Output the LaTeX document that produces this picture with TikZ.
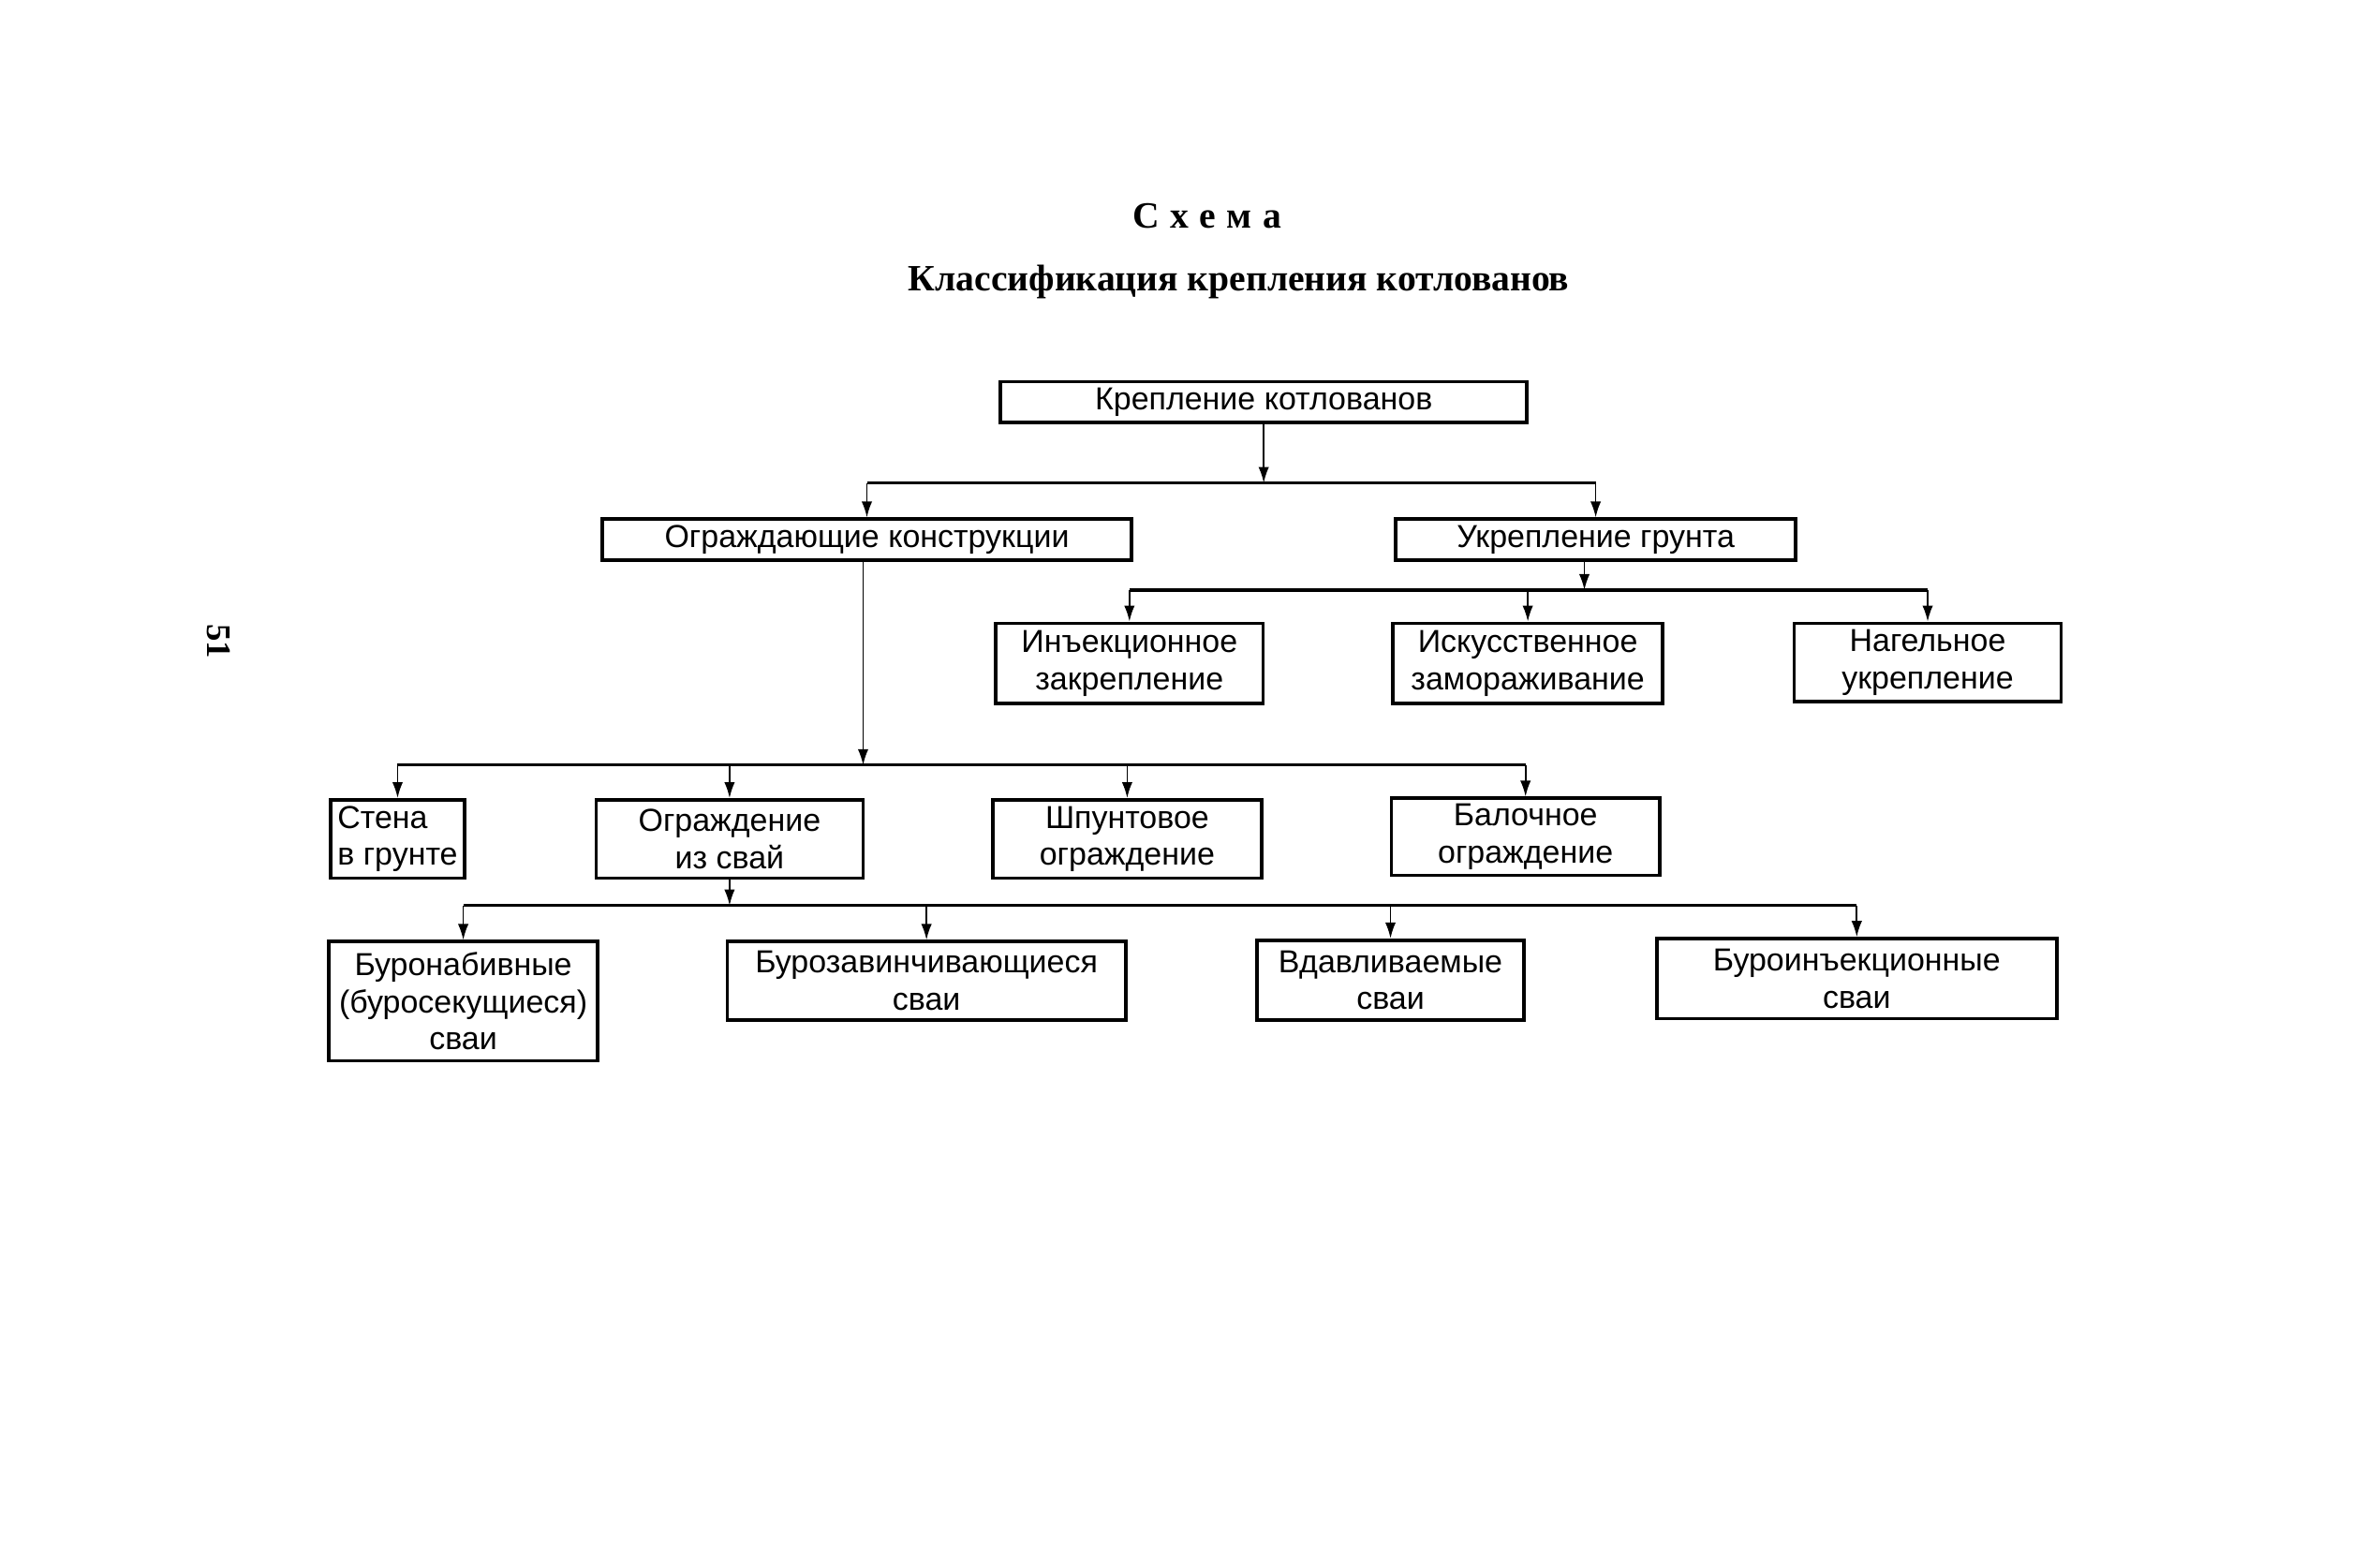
\documentclass[tikz,border=0pt]{standalone}
\usepackage{fontspec}
\setmainfont{Liberation Sans}
\newfontfamily\titlefont{Liberation Serif}
\usepackage{tikz}
\usetikzlibrary{arrows.meta,positioning}

\begin{document}
\begin{tikzpicture}[x=0.02cm,y=-0.02cm,
  box/.style={draw,line width=1.3pt,inner sep=1pt,align=center,font=\fontsize{12}{14}\selectfont},
  heading/.style={font=\titlefont\bfseries\fontsize{14}{16}\selectfont},
  arrow/.style={-{Latex[length=6pt,width=4pt]},line width=0.6pt},
  bus/.style={line width=1.2pt}
]
  \useasboundingbox (0,0) rectangle (1568,1039);
  \node[heading] (scheme) at (800,143) {\addfontfeature{LetterSpace=30}Схема};
  \node[heading] (title) at (821,187) {Классификация крепления котлованов};
  \node[heading,font=\titlefont\bfseries\fontsize{13}{15}\selectfont,rotate=-90] (page) at (145,425) {51};

  % levels 1 and 2
  \node[box,minimum width=6.98cm,minimum height=0.54cm] (root) at (837.5,266.5) {Крепление котлованов};
  \node[box,minimum width=7.02cm,minimum height=0.54cm] (fence) at (574.5,357.5) {Ограждающие конструкции};
  \node[box,minimum width=5.30cm,minimum height=0.54cm] (soil) at (1057.5,357.5) {Укрепление грунта};

  % soil strengthening
  \node[box,minimum width=3.54cm,minimum height=1.06cm] (inject) at (748.5,439.5) {Инъекционное\\закрепление};
  \node[box,minimum width=3.58cm,minimum height=1.06cm] (freeze) at (1012.5,439.5) {Искусственное\\замораживание};
  \node[box,minimum width=3.54cm,minimum height=1.04cm] (nail) at (1277.5,439) {Нагельное\\укрепление};

  % retaining structures
  \node[box,align=left,minimum width=1.78cm,minimum height=1.04cm] (wall) at (263.5,556) {Стена\\в грунте};
  \node[box,minimum width=3.54cm,minimum height=1.04cm] (piles) at (483.5,556) {Ограждение\\из свай};
  \node[box,minimum width=3.56cm,minimum height=1.04cm] (sheet) at (747,556) {Шпунтовое\\ограждение};
  \node[box,minimum width=3.56cm,minimum height=1.02cm] (beam) at (1011,554.5) {Балочное\\ограждение};

  % pile types
  \node[box,minimum width=3.56cm,minimum height=1.58cm] (bored) at (307,663.5) {Буронабивные\\(буросекущиеся)\\сваи};
  \node[box,minimum width=5.28cm,minimum height=1.04cm] (screw) at (614,650) {Бурозавинчивающиеся\\сваи};
  \node[box,minimum width=3.54cm,minimum height=1.06cm] (press) at (921.5,649.5) {Вдавливаемые\\сваи};
  \node[box,minimum width=5.30cm,minimum height=1.06cm] (grout) at (1230.5,648.5) {Буроинъекционные\\сваи};

  % bus lines
  \coordinate (bus1) at (836,320);
  \coordinate (bus2) at (1050,391);
  \coordinate (bus3) at (572,507);
  \coordinate (bus4) at (483,600);

  \draw[arrow] (root.south) -- (root.south |- bus1);
  \draw[bus] (fence.north |- bus1) -- (soil.north |- bus1);
  \draw[arrow] (fence.north |- bus1) -- (fence.north);
  \draw[arrow] (soil.north |- bus1) -- (soil.north);

  \draw[arrow] (bus2 |- soil.south) -- (bus2);
  \draw[bus] (inject.north |- bus2) -- (nail.north |- bus2);
  \draw[arrow] (inject.north |- bus2) -- (inject.north);
  \draw[arrow] (freeze.north |- bus2) -- (freeze.north);
  \draw[arrow] (nail.north |- bus2) -- (nail.north);

  \draw[arrow] (bus3 |- fence.south) -- (bus3);
  \draw[bus] (wall.north |- bus3) -- (beam.north |- bus3);
  \draw[arrow] (wall.north |- bus3) -- (wall.north);
  \draw[arrow] (piles.north |- bus3) -- (piles.north);
  \draw[arrow] (sheet.north |- bus3) -- (sheet.north);
  \draw[arrow] (beam.north |- bus3) -- (beam.north);

  \draw[arrow] (piles.south) -- (piles.south |- bus4);
  \draw[bus] (bored.north |- bus4) -- (grout.north |- bus4);
  \draw[arrow] (bored.north |- bus4) -- (bored.north);
  \draw[arrow] (screw.north |- bus4) -- (screw.north);
  \draw[arrow] (press.north |- bus4) -- (press.north);
  \draw[arrow] (grout.north |- bus4) -- (grout.north);
\end{tikzpicture}
\end{document}
